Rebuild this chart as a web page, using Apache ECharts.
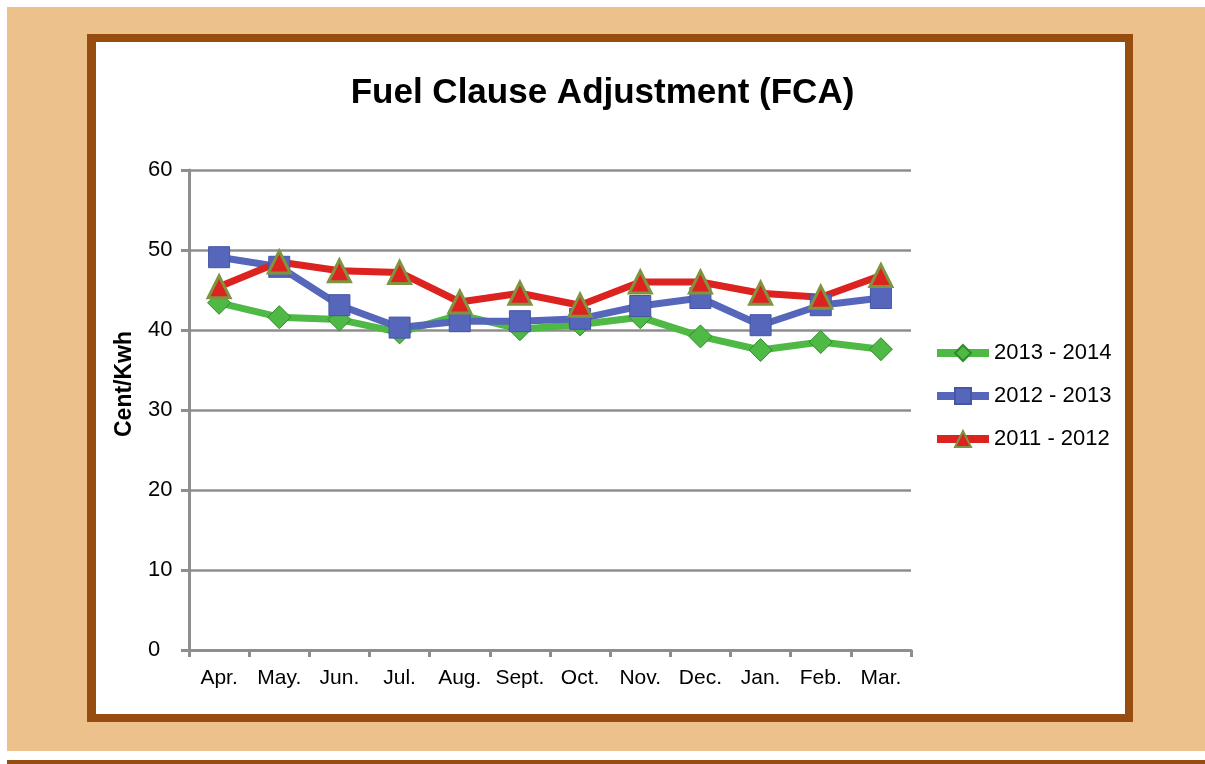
<!DOCTYPE html>
<html>
<head>
<meta charset="utf-8">
<script src="https://cdn.jsdelivr.net/npm/echarts@6/dist/echarts.min.js"></script>
<style>
  html, body { margin: 0; padding: 0; background: #ffffff; }
  #page { position: relative; width: 1205px; height: 764px; overflow: hidden; }
  .tan { position: absolute; left: 7px; top: 7px; width: 1198px; height: 744px; background: #ecc18b; }
  .frame { position: absolute; left: 87px; top: 34px; width: 1029px; height: 672px;
           border: 8px solid #984d10; border-left-width: 9px; background: #ffffff; }
  .bottombar { position: absolute; left: 7px; top: 760px; width: 1198px; height: 4px; background: #984d10; }
  #main { position: absolute; left: 0; top: 0; width: 1205px; height: 764px; }
</style>
</head>
<body>
<div id="page">
  <div class="tan"></div>
  <div class="frame"></div>
  <div class="bottombar"></div>
  <div id="main"></div>
</div>
<script>
// months on the x axis
const months = ["Apr.", "May.", "Jun.", "Jul.", "Aug.", "Sept.", "Oct.", "Nov.", "Dec.", "Jan.", "Feb.", "Mar."];
// cent per kwh
const fy2013 = [43.4, 41.6, 41.3, 39.7, 41.9, 40.1, 40.7, 41.6, 39.2, 37.5, 38.5, 37.6];
const fy2012 = [49.1, 47.9, 43.1, 40.3, 41.1, 41.1, 41.4, 43.0, 44.0, 40.6, 43.1, 44.0];
const fy2011 = [45.4, 48.5, 47.4, 47.2, 43.5, 44.6, 43.1, 46.0, 46.0, 44.6, 44.1, 46.8];
const yTicks = { min: 0, max: 60, step: 10 };

var chartDom = document.getElementById("main");
var myChart = echarts.init(chartDom);

var axisGray = "#8e8e8e";
var font = "Liberation Sans, Arial, sans-serif";

myChart.setOption({
  backgroundColor: "transparent",
  animation: false,
  textStyle: { fontFamily: font },
  title: {
    text: "Fuel Clause Adjustment (FCA)",
    left: "center",
    top: 71,
    textStyle: { fontSize: 35, fontWeight: "bold", color: "#000", fontFamily: font },
  },
  legend: {
    orient: "vertical",
    left: 933,
    top: 342,
    padding: 0,
    itemWidth: 52,
    itemHeight: 20,
    itemGap: 21,
    lineStyle: { width: 8 },
    textStyle: { fontSize: 22, color: "#000" },
    data: ["2013 - 2014", "2012 - 2013", "2011 - 2012"],
  },
  grid: {
    left: 189,
    right: 294,
    top: 170,
    bottom: 114,
    containLabel: false,
  },
  graphic: [
    {
      type: "text",
      x: 125,
      y: 384,
      rotation: Math.PI / 2,
      style: {
        text: "Cent/Kwh",
        font: "bold 23px " + font,
        fill: "#000",
        align: "center",
        verticalAlign: "middle",
      },
    },
  ],
  xAxis: {
    type: "category",
    boundaryGap: true,
    data: months,
    axisLine: { lineStyle: { color: axisGray, width: 3 } },
    axisTick: { show: true, length: 7, lineStyle: { color: axisGray, width: 3 } },
    axisLabel: { interval: 0, fontSize: 21, color: "#000", margin: 18 },
  },
  yAxis: {
    type: "value",
    min: yTicks.min,
    max: yTicks.max,
    interval: yTicks.step,
    axisLine: { show: true, lineStyle: { color: axisGray, width: 3 } },
    axisTick: { show: true, length: 8, lineStyle: { color: axisGray, width: 3 } },
    axisLabel: { fontSize: 22, color: "#000", margin: 41, align: "left" },
    splitLine: { lineStyle: { color: axisGray, width: 2.5 } },
  },
  series: [
    {
      name: "2013 - 2014",
      type: "line",
      data: fy2013,
      symbol: "diamond",
      symbolSize: 23,
      lineStyle: { color: "#4fb946", width: 7 },
      itemStyle: { color: "#4fb946", borderColor: "#2f8a2a", borderWidth: 1 },
    },
    {
      name: "2012 - 2013",
      type: "line",
      data: fy2012,
      symbol: "rect",
      symbolSize: 21,
      lineStyle: { color: "#5566bb", width: 7 },
      itemStyle: { color: "#5566bb", borderColor: "#4656a6", borderWidth: 1 },
    },
    {
      name: "2011 - 2012",
      type: "line",
      data: fy2011,
      symbol: "triangle",
      symbolSize: 22,
      lineStyle: { color: "#dd2320", width: 7 },
      itemStyle: { color: "#dd2320", borderColor: "#7f9440", borderWidth: 3 },
    },
  ],
});
</script>
</body>
</html>
